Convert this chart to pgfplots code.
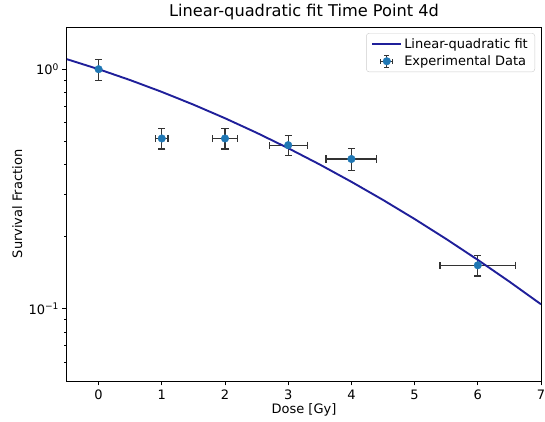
\documentclass[border=0pt]{standalone}
\usepackage{fontspec}
\setmainfont{DejaVu Sans}
\usepackage{pgfplots}
\pgfplotsset{compat=1.18}
\usepackage{pgfplotstable}
\definecolor{fitc}{HTML}{1F1F9A}
\definecolor{datac}{HTML}{1F77B4}
\definecolor{errc}{HTML}{333333}

\pgfplotstableread{
x y ex ey
0 1.000 0   0.100
1 0.514 0.1 0.050
2 0.514 0.2 0.050
3 0.482 0.3 0.047
4 0.422 0.4 0.044
6 0.152 0.6 0.015
}\datatab

\pgfplotstableread{
x y
-0.5 1.1007
0.0 1.0000
0.5 0.9006
1.0 0.8041
1.5 0.7117
2.0 0.6244
2.5 0.5430
3.0 0.4682
3.5 0.4002
4.0 0.3390
4.5 0.2848
5.0 0.2371
5.5 0.1957
6.0 0.1601
6.5 0.1299
7.0 0.1045
}\fittab

\begin{document}
\begin{tikzpicture}
\begin{axis}[
  scale only axis, width=474bp, height=354bp,
  ymode=log, log basis y=10,
  xmin=-0.5, xmax=7, ymin=0.05, ymax=1.5,
  xtick={0,1,2,3,4,5,6,7},
  ytick={0.1,1}, yticklabels={{10\textsuperscript{−1}},{10\textsuperscript{0}}},
  minor ytick={0.06,0.07,0.08,0.09,0.2,0.3,0.4,0.5,0.6,0.7,0.8,0.9},
  tick align=outside, tick pos=left,
  major tick length=4.5bp, minor tick length=2.6bp,
  every tick/.style={black, line width=1bp},
  axis line style={line width=1bp},
  /pgf/number format/assume math mode=true,
  tick label style={font=\fontsize{13bp}{15bp}\selectfont},
  label style={font=\fontsize{13bp}{15bp}\selectfont},
  xticklabel style={yshift=-1bp},
  xlabel={Dose [Gy]}, ylabel={Survival Fraction},
  xlabel style={at={(axis description cs:0.5,-0.093)}, anchor=base},
  ylabel style={at={(axis description cs:-0.0949,0.5)}, anchor=base},
  title={Linear-quadratic fit Time Point 4d},
  title style={at={(axis description cs:0.5,1.014)}, anchor=base, font=\fontsize{16.2bp}{19bp}\selectfont},
  legend style={at={(axis description cs:1,1)}, anchor=north east, xshift=-6bp, yshift=-6bp,
    draw=black!20, rounded corners=3bp, fill=white, font=\fontsize{13bp}{15bp}\selectfont,
    inner xsep=5bp, inner ysep=3bp, row sep=2bp},
  legend cell align=left,
  reverse legend,
]
\addplot[only marks, mark=*, mark size=3.8bp, mark options={draw=datac, fill=datac},
  legend image code/.code={
    \draw[errc, line width=1.2bp] (14.5bp,-6bp) -- (14.5bp,6bp) (8.5bp,0bp) -- (20.5bp,0bp);
    \draw[errc, line width=1.2bp] (12bp,-6bp) -- (17bp,-6bp) (12bp,6bp) -- (17bp,6bp)
      (8.5bp,-2.5bp) -- (8.5bp,2.5bp) (20.5bp,-2.5bp) -- (20.5bp,2.5bp);
    \fill[datac] (14.5bp,0bp) circle (3.8bp);
  },
  error bars/.cd, x dir=both, x explicit, y dir=both, y explicit,
  error bar style={errc, line width=1.3bp},
  error mark options={errc, line width=1.3bp, mark size=3.6bp, rotate=90},
  ]
  table[x=x, y=y, x error=ex, y error=ey]{\datatab};
\addlegendentry{Experimental Data}
\addplot[fitc, line width=1.9bp, no marks,
  legend image code/.code={\draw[fitc, line width=1.9bp] (0bp,0bp) -- (29bp,0bp);}]
  table[x=x, y=y]{\fittab};
\addlegendentry{Linear-quadratic fit}
\coordinate (bl) at (rel axis cs:0,0);
\coordinate (tr) at (rel axis cs:1,1);
\end{axis}
\pgfresetboundingbox
\path[use as bounding box] ([xshift=-67bp,yshift=-41bp]bl) rectangle ([xshift=4bp,yshift=27bp]tr);
\end{tikzpicture}
\end{document}
